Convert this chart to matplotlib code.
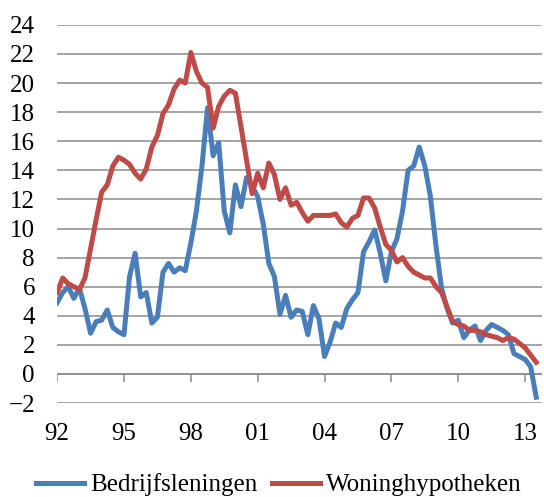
import matplotlib
matplotlib.use("Agg")
import matplotlib.pyplot as plt
import numpy as np

plt.rcParams["font.family"] = ["Liberation Serif", "DejaVu Serif"]

# quarterly data, 1992Q1 .. 2013Q3
bedrijfsleningen = [
    4.9, 5.6, 6.0, 5.2, 5.9, 4.5, 2.8, 3.6, 3.7, 4.4, 3.2, 2.9,
    2.7, 6.7, 8.3, 5.3, 5.6, 3.5, 3.9, 7.0, 7.6, 7.0, 7.3, 7.1,
    9.0, 11.2, 14.3, 18.3, 15.0, 15.9, 11.2, 9.7, 13.0, 11.5, 13.5, 12.9,
    12.2, 10.3, 7.6, 6.7, 4.1, 5.4, 3.9, 4.4, 4.3, 2.7, 4.7, 3.8,
    1.2, 2.2, 3.5, 3.2, 4.5, 5.1, 5.6, 8.4, 9.1, 9.9, 8.3, 6.4,
    8.4, 9.3, 11.2, 14.0, 14.3, 15.6, 14.3, 12.2, 8.8, 5.9, 4.5, 3.5,
    3.7, 2.5, 3.0, 3.3, 2.3, 3.0, 3.4, 3.2, 3.0, 2.7, 1.4, 1.2,
    1.0, 0.5, -1.6,
]
woninghypotheken = [
    5.6, 6.6, 6.2, 6.0, 5.8, 6.6, 8.6, 10.6, 12.5, 13.0, 14.3, 14.9,
    14.7, 14.4, 13.8, 13.4, 14.1, 15.6, 16.4, 17.9, 18.5, 19.6, 20.2, 20.0,
    22.1, 20.8, 20.0, 19.7, 16.9, 18.4, 19.1, 19.5, 19.3, 17.0, 14.7, 12.4,
    13.8, 12.8, 14.5, 13.7, 12.0, 12.8, 11.6, 11.8, 11.1, 10.5, 10.9, 10.9,
    10.9, 10.9, 11.0, 10.4, 10.1, 10.7, 10.9, 12.1, 12.1, 11.4, 10.1, 8.9,
    8.5, 7.7, 8.0, 7.4, 7.0, 6.8, 6.6, 6.6, 6.0, 5.6, 4.6, 3.6,
    3.4, 3.3, 3.0, 3.0, 2.9, 2.7, 2.6, 2.5, 2.3, 2.5, 2.4, 2.1,
    1.8, 1.3, 0.8,
]
year_labels = ["92", "95", "98", "01", "04", "07", "10", "13"]

x = np.arange(len(bedrijfsleningen))
tick_pos = np.arange(len(year_labels)) * 12

fig = plt.figure(figsize=(5.44, 4.97), dpi=100)
ax = fig.add_axes([0.105, 0.189, 0.891, 0.761])

grid_col = "#8c8c8c"
for yv in range(-2, 25, 2):
    ax.axhline(yv, color=grid_col, lw=1.1, zorder=1)

# x axis drawn at zero, ticks pointing down
ax.axhline(0, color=grid_col, lw=1.1, zorder=1)
ax.vlines(tick_pos, -0.55, 0, color=grid_col, lw=1.1, zorder=1)

ax.plot(x, bedrijfsleningen, color="#4A7EBB", lw=3.6, label="Bedrijfsleningen",
        solid_joinstyle="round", zorder=3)
ax.plot(x, woninghypotheken, color="#BE4B48", lw=3.6, label="Woninghypotheken",
        solid_joinstyle="round", zorder=3)

ax.set_xlim(0, 87)
ax.set_ylim(-2, 24)
ax.set_yticks(range(-2, 25, 2))
ax.set_xticks(tick_pos)
ax.set_xticklabels(year_labels)
ax.tick_params(axis="y", length=0, pad=16, labelsize=18)
ax.tick_params(axis="x", length=0, pad=14, labelsize=18)
for s in ax.spines.values():
    s.set_visible(False)

fig.legend(loc="center", bbox_to_anchor=(0.513, 1 - 485 / 497), ncol=2,
           frameon=False, fontsize=18, handlelength=1.9, handletextpad=0.25,
           columnspacing=0.6, borderaxespad=0, borderpad=0)

fig.savefig("out.png", dpi=100)
